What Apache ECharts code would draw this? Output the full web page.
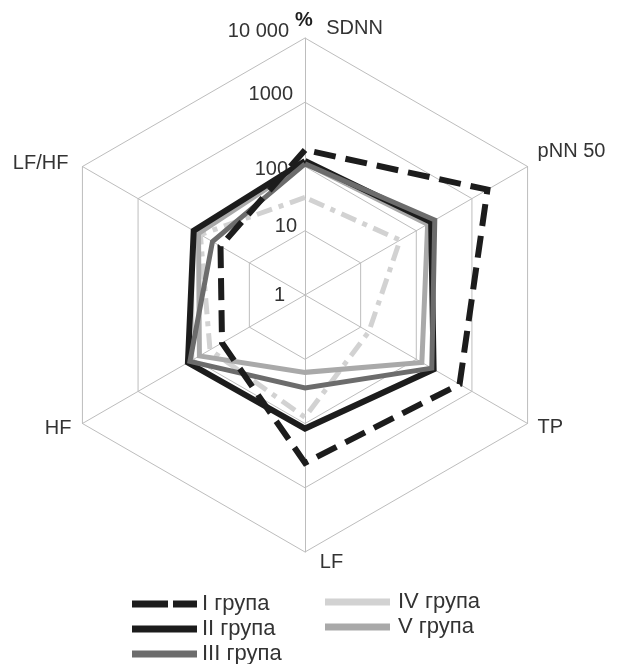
<!DOCTYPE html>
<html>
<head>
<meta charset="utf-8">
<script src="https://cdn.jsdelivr.net/npm/echarts@6/dist/echarts.min.js"></script>
<style>
  html, body { margin: 0; padding: 0; background: #fff; }
  #chart { width: 619px; height: 664px; }
</style>
</head>
<body>
<div id="chart"></div>
<script>
// Indicators, listed counter-clockwise starting at the top (ECharts radar order)
const indicatorNames = ['SDNN', 'LF/HF', 'HF', 'LF', 'TP', 'pNN 50'];

// Log-scale rings: 1, 10, 100, 1000, 10 000 (%)
const tickLabels = ['1', '10', '100', '1000', '10 000'];

// Values (%) per group, in indicator order
const groupNames = ['I група', 'II група', 'III група', 'IV група', 'V група'];
const group1 = [181, 33, 31, 410, 600, 1900];
const group2 = [122, 100, 127, 120, 205, 185];
const group3 = [110, 46, 117, 28, 190, 215];
const group4 = [33, 76, 51, 80, 14, 51];
const group5 = [112, 82, 79, 16, 126, 160];

const FONT = '"Liberation Sans", Arial, Helvetica, sans-serif';
const toLog = arr => arr.map(v => Math.log10(v));

const chart = echarts.init(document.getElementById('chart'), null, { renderer: 'canvas' });

// per-name nudges around the polygon corners
const nameRich = {
  sdnn: { padding: [0, 0, 0, 99] },
  pnn: { padding: [0, 0, 31, 10] },
  tp: { padding: [8, 0, 0, 10] },
  lf: { padding: [0, 0, 0, 53] },
  hf: { padding: [10, 11, 0, 0] },
  lfhf: { padding: [0, 14, 7, 0] }
};
const nameKey = { 'SDNN': 'sdnn', 'pNN 50': 'pnn', 'TP': 'tp', 'LF': 'lf', 'HF': 'hf', 'LF/HF': 'lfhf' };

// per-tick nudges for the scale labels on the SDNN spoke
const tickRich = {
  t0: { padding: [0, 12, 0, 0] },
  t1: { padding: [0, 0, 8, 0] },
  t2: { padding: [6, 9, 0, 0] },
  t3: { padding: [0, 4, 16, 0] },
  t4: { padding: [0, 8, 14, 0] }
};

function radarSeries(name, values, color, width, type) {
  return {
    type: 'radar',
    name: name,
    color: color,
    symbol: 'none',
    silent: true,
    lineStyle: { color: color, width: width, type: type || 'solid', cap: 'butt', join: 'miter' },
    data: [{ name: name, value: toLog(values) }]
  };
}

const legendBase = {
  orient: 'vertical',
  height: 120,
  itemGap: 3,
  itemWidth: 65,
  itemHeight: 7,
  selectedMode: false
};

const option = {
  backgroundColor: '#ffffff',
  animation: false,
  textStyle: { fontFamily: FONT },
  radar: {
    center: [305, 295],
    radius: 257,
    startAngle: 90,
    shape: 'polygon',
    splitNumber: 4,
    axisNameGap: 0,
    indicator: indicatorNames.map((n, i) => {
      const ind = { name: n, min: 0, max: 4 };
      if (i === 0) ind.axisLabel = { show: true };
      return ind;
    }),
    axisName: {
      color: '#333333',
      fontSize: 20,
      fontFamily: FONT,
      formatter: (name) => '{' + nameKey[name] + '|' + name + '}',
      rich: nameRich
    },
    axisLabel: {
      show: false,
      color: '#333333',
      fontSize: 20,
      fontFamily: FONT,
      margin: 8,
      showMinLabel: true,
      showMaxLabel: true,
      formatter: (v) => {
        const i = Math.round(v);
        return '{t' + i + '|' + tickLabels[i] + '}';
      },
      rich: tickRich
    },
    axisTick: { show: false },
    axisLine: { lineStyle: { color: '#bdbdbd', width: 1 } },
    splitLine: { lineStyle: { color: '#bdbdbd', width: 1 } },
    splitArea: { show: false }
  },
  legend: [
    Object.assign({}, legendBase, {
      left: 127,
      top: 588,
      textStyle: { fontSize: 22, color: '#333333', fontFamily: FONT, padding: [0, 0, 0, 0] },
      data: [
        { name: groupNames[0], icon: 'path://M0,0H36V7H0Z M41,0H65V7H41Z' },
        { name: groupNames[1], icon: 'rect' },
        { name: groupNames[2], icon: 'rect' }
      ]
    }),
    Object.assign({}, legendBase, {
      left: 320,
      top: 586,
      textStyle: { fontSize: 22, color: '#333333', fontFamily: FONT, padding: [0, 0, 0, 3] },
      data: [
        { name: groupNames[3], icon: 'rect' },
        { name: groupNames[4], icon: 'rect' }
      ]
    })
  ],
  graphic: [
    {
      type: 'text',
      x: 304,
      y: 20,
      style: {
        text: '%',
        font: 'bold 20px ' + FONT,
        fill: '#1e1e1e',
        align: 'center',
        verticalAlign: 'middle'
      }
    }
  ],
  series: [
    radarSeries(groupNames[3], group4, '#d2d2d2', 5, [16, 7, 5, 7]),
    radarSeries(groupNames[4], group5, '#a9a9a9', 5),
    radarSeries(groupNames[1], group2, '#1c1c1c', 6),
    radarSeries(groupNames[2], group3, '#6c6c6c', 5),
    radarSeries(groupNames[0], group1, '#1c1c1c', 6, [22, 10])
  ]
};

chart.setOption(option);
</script>
</body>
</html>
